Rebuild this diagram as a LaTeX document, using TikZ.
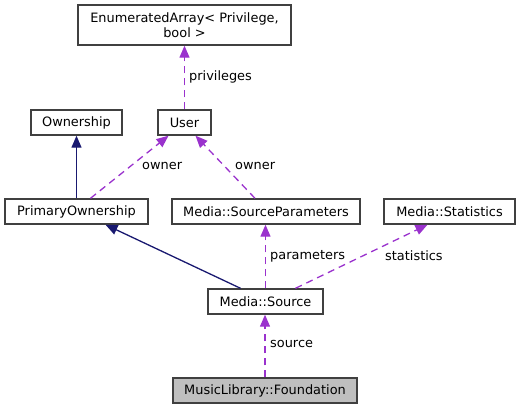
\documentclass[tikz,border=0pt]{standalone}
\usepackage{fontspec}
\setmainfont{DejaVu Sans}
\usetikzlibrary{arrows.meta,calc}
\definecolor{dep}{HTML}{9A32CD}
\definecolor{inh}{HTML}{191970}
\definecolor{frame}{HTML}{404040}
\definecolor{fnd}{HTML}{BFBFBF}
\begin{document}
\begin{tikzpicture}[x=1pt,y=-1pt,
  box/.style={draw=frame,line width=1.4pt,fill=white,inner sep=0pt,align=center,
    font=\fontsize{12.9}{14.5}\selectfont,minimum height=25pt},
  deplink/.style={draw=dep,line width=1.3pt,dash pattern=on 7pt off 5pt,
    -{Triangle[length=12pt,width=10pt,fill=dep,sep=0pt]}},
  inhlink/.style={draw=inh,line width=1.3pt,-{Triangle[length=12pt,width=10pt,fill=inh]}},
  lbl/.style={font=\fontsize{12.9}{14.5}\selectfont,inner sep=0pt,anchor=west}]
\useasboundingbox (0,0) rectangle (521,409);
\node[box,minimum width=213pt,minimum height=40pt] (ea) at (184.5,25) {EnumeratedArray< Privilege,\\ bool >};
\node[box,minimum width=91pt] (own) at (76.5,122.5) {Ownership};
\node[box,minimum width=53pt] (user) at (184.5,122.5) {User};
\node[box,minimum width=143pt] (po) at (76.5,211.5) {PrimaryOwnership};
\node[box,minimum width=188pt] (sp) at (266,211.5) {Media::SourceParameters};
\node[box,minimum width=131pt] (st) at (449.5,211.5) {Media::Statistics};
\node[box,minimum width=115pt] (src) at (265.5,301.5) {Media::Source};
\node[box,fill=fnd,minimum width=184pt] (fd) at (265,390.5) {MusicLibrary::Foundation};
\draw[deplink] (user.north) -- (ea.south);
\node[lbl] (l1) at (189,77) {privileges};
\draw[inhlink] (po.north) -- (own.south);
\draw[deplink] ([xshift=14pt]po.north) -- ([xshift=-16pt]user.south);
\node[lbl] (l2) at (142,166) {owner};
\draw[deplink] ([xshift=-11pt]sp.north) -- ([xshift=11pt]user.south);
\node[lbl] (l3) at (235,166) {owner};
\draw[inhlink] ([xshift=-25pt]src.north) -- ([xshift=29pt]po.south);
\draw[deplink] (src.north) -- (src.north |- sp.south);
\node[lbl] (l4) at (270,256) {parameters};
\draw[deplink] ([xshift=30pt]src.north) -- ([xshift=-22pt]st.south);
\node[lbl] (l5) at (385,256) {statistics};
\draw[deplink] (fd.north) -- (fd.north |- src.south);
\node[lbl] (l6) at (270,344) {source};
\end{tikzpicture}
\end{document}
